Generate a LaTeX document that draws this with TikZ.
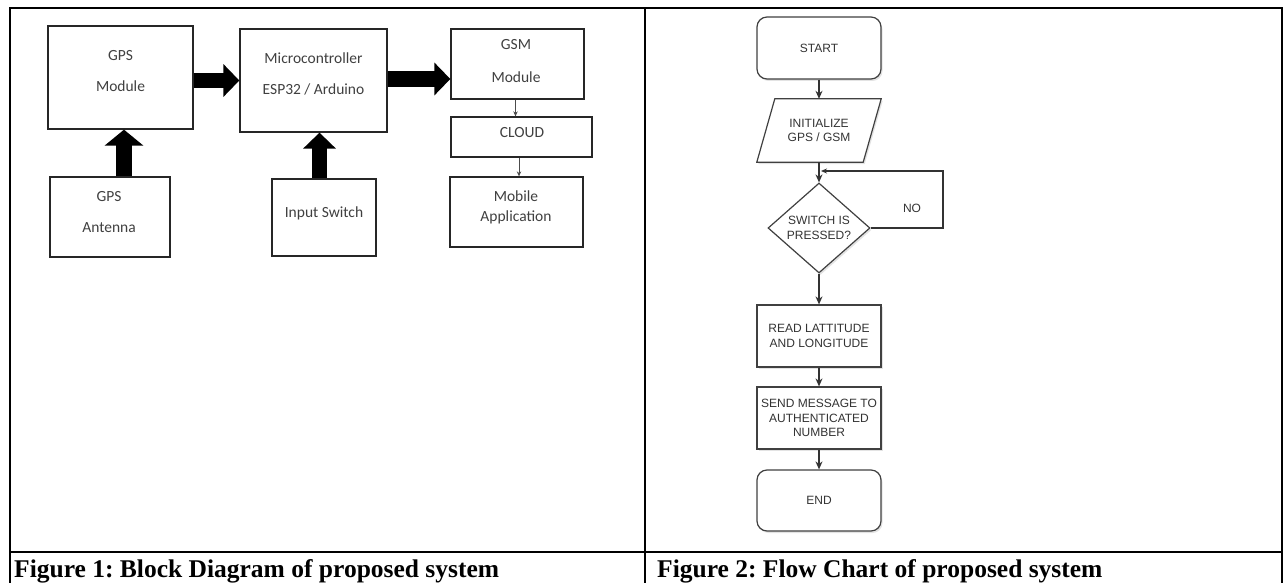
\documentclass[tikz,border=0pt]{standalone}
\usepackage{fontspec}
\setmainfont{Liberation Serif}
\newfontfamily\blkfont{Carlito}
\newfontfamily\fcfont{Liberation Sans}
\usetikzlibrary{arrows.meta,shapes.geometric,shadows,calc,backgrounds}
\frenchspacing
\begin{document}
\begin{tikzpicture}[x=1pt,y=-1pt,
  tablerule/.style={line width=2pt, draw=black},
  blk/.style={draw=black!85, line width=1.3pt, inner sep=0pt, fill=white},
  btxt/.style={font=\blkfont\fontsize{15.5}{18}\selectfont, text=black!75, inner sep=0pt, anchor=base},
  fatarrow/.style={draw=black, line width=15.5pt, -{Triangle[width=32pt,length=16pt]}},
  smallarrow/.style={draw=black!70, line width=0.8pt, -{Stealth[length=5pt,width=4.5pt]}},
  fcshadow/.style={drop shadow={opacity=0.22, shadow xshift=1.5pt, shadow yshift=-2pt}},
  fcfont/.style={font=\fcfont\fontsize{12}{14.5}\selectfont, text=black!80, align=center},
  fcbox/.style={draw=black!75, line width=1.2pt, fill=white, minimum width=124pt, minimum height=62pt, inner sep=0pt, fcfont, fcshadow},
  fcterm/.style={fcbox, rounded corners=10pt},
  fcdec/.style={diamond, draw=black!75, line width=1.2pt, fill=white, minimum width=102pt, minimum height=90pt, aspect=1.13, inner sep=0pt, fcfont, fcshadow},
  fcarrow/.style={draw=black!80, line width=1.1pt, -{Stealth[length=8pt,width=7pt]}},
  captext/.style={font=\bfseries\fontsize{25.5}{30}\selectfont, anchor=base west, inner sep=0pt}
]
\useasboundingbox (0,0) rectangle (1283,583);

% ---------- table frame ----------
\draw[tablerule] (9,8.5) -- (1283,8.5);
\draw[tablerule] (10,7.5) -- (10,583);
\draw[tablerule] (645,7.5) -- (645,583);
\draw[tablerule] (1282,7.5) -- (1282,583);
\draw[tablerule] (9,552) -- (1283,552);

% ---------- Figure 1: block diagram ----------
\node[blk, minimum width=145pt, minimum height=103pt] (gpsm) at (120.5,77.5) {};
\node[btxt] (gpsm1) at (120.5,61) {GPS};
\node[btxt] (gpsm2) at (120.5,92) {Module};

\node[blk, minimum width=147pt, minimum height=103pt] (mcu) at (313.5,80.5) {};
\node[btxt] (mcu1) at (313.5,64) {Microcontroller};
\node[btxt] (mcu2) at (313.5,95) {ESP32 / Arduino};

\node[blk, minimum width=133pt, minimum height=70pt] (gsm) at (517.5,64) {};
\node[btxt] (gsm1) at (516,50) {GSM};
\node[btxt] (gsm2) at (516,83) {Module};

\node[blk, minimum width=141pt, minimum height=40pt] (cloud) at (521.5,137) {};
\node[btxt] (cloud1) at (522,138) {CLOUD};

\node[blk, minimum width=133pt, minimum height=70pt] (mob) at (516.5,212) {};
\node[btxt] (mob1) at (516,201) {Mobile};
\node[btxt] (mob2) at (516,222) {Application};

\node[blk, minimum width=120pt, minimum height=80pt] (ant) at (110,217) {};
\node[btxt] (ant1) at (109,201) {GPS};
\node[btxt] (ant2) at (109,233) {Antenna};

\node[blk, minimum width=104pt, minimum height=77pt] (sw) at (324,217.5) {};
\node[btxt] (sw1) at (324,217) {Input Switch};

\draw[fatarrow] (gpsm.east |- mcu.west) -- (mcu.west);
\draw[fatarrow] ($(mcu.east)+(0,-1.5)$) -- ($(mcu.east -| gsm.west)+(0,-1.5)$);
\draw[fatarrow, -{Triangle[width=38pt,length=16pt]}] ($(ant.north)+(14,0)$) -- ($(gpsm.south)+(3.5,0)$);
\draw[fatarrow] ($(sw.north)+(-4.5,0)$) -- ($(mcu.south)+(6,0)$);
\draw[smallarrow] ($(gsm.south)+(-2,0)$) -- ($(cloud.north)+(-6,0)$);
\draw[smallarrow] ($(cloud.south)+(-2.5,0)$) -- ($(mob.north)+(2.5,0)$);

% ---------- Figure 2: flow chart ----------
\node[fcterm] (start) at (819,48) {START};
\node[fcfont, minimum width=124pt, minimum height=63pt, inner sep=0pt] (init) at (819,130.5) {INITIALIZE\\GPS / GSM};
\begin{scope}[on background layer]
\path[draw=black!75, line width=1.2pt, fill=white, fcshadow]
  (init.south west) -- ($(init.north west)+(18,0)$) -- (init.north east) -- ($(init.south east)+(-18,0)$) -- cycle;
\end{scope}
\node[fcdec] (dec) at (819,228) {SWITCH IS\\PRESSED?};
\node[fcbox] (read) at (819,336) {READ LATTITUDE\\AND LONGITUDE};
\node[fcbox] (send) at (819,418) {SEND MESSAGE TO\\AUTHENTICATED\\NUMBER};
\node[fcterm, minimum height=61pt] (end) at (819,500.5) {END};
\node[fcfont, inner sep=0pt] (nolab) at (912,208) {NO};

\coordinate (loopc) at (943,171);
\coordinate (joint) at (821,171);

\draw[fcarrow] (start.south) -- (init.north);
\draw[fcarrow] (init.south) -- (dec.north);
\draw[fcarrow, -{Stealth[length=6pt,width=5pt]}] (dec.east) -| (loopc) -- (joint);
\draw[fcarrow] (dec.south) -- (read.north);
\draw[fcarrow] (read.south) -- (send.north);
\draw[fcarrow] (send.south) -- (end.north);

% ---------- captions ----------
\node[captext] (cap1) at (14,577) {Figure 1: Block Diagram of proposed system};
\node[captext] (cap2) at (657,577) {Figure 2: Flow Chart of proposed system};
\end{tikzpicture}
\end{document}
